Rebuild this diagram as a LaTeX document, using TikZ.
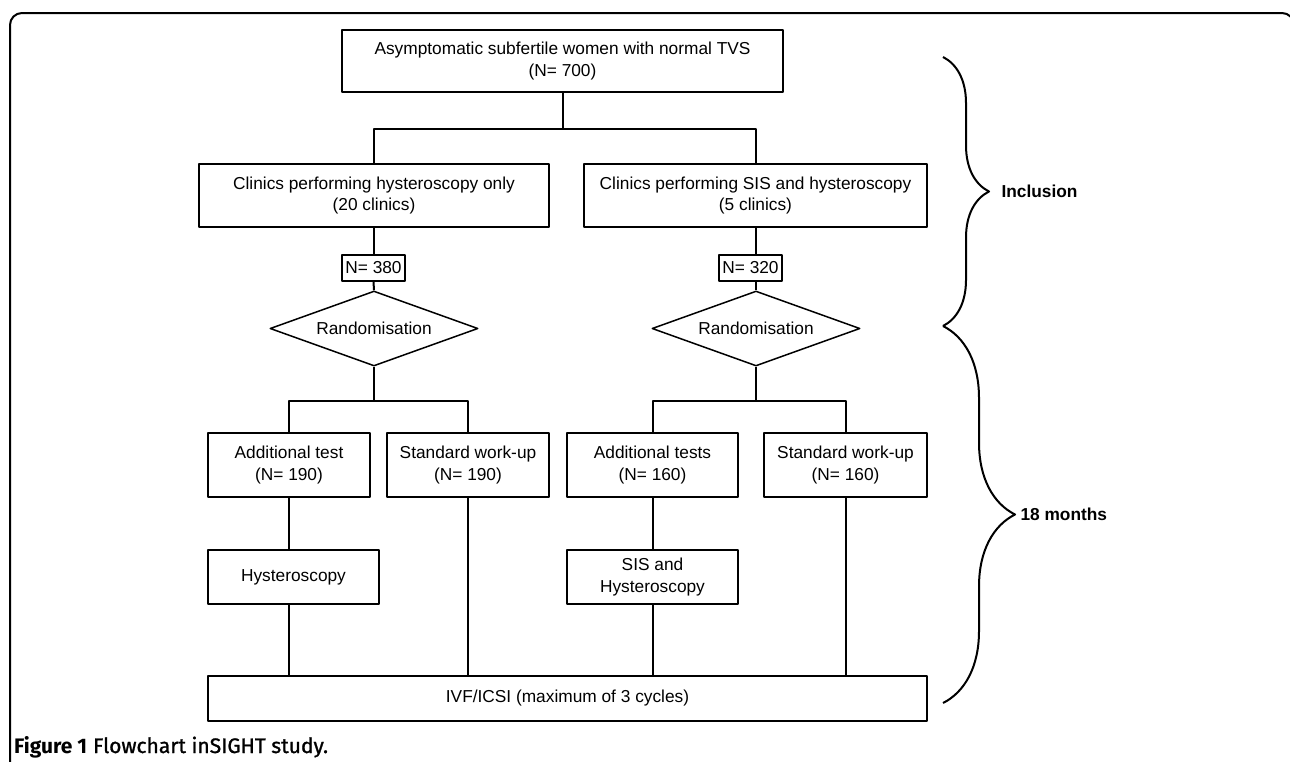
\documentclass[tikz,border=0pt]{standalone}
\usepackage{fontspec}
\setmainfont{Liberation Sans}
\newfontfamily\capfont{Fira Sans}[FakeBold=1.2]
\newfontfamily\capbold{Fira Sans}
\usetikzlibrary{shapes.geometric,decorations.pathreplacing}

\tikzset{
	box/.style={draw, line width=1.5pt, inner sep=0pt, align=center},
	rand/.style={diamond, draw, line width=1.5pt, inner sep=0pt, aspect=2.77, minimum width=208, minimum height=75},
	link/.style={line width=2pt},
	bracket/.style={line width=2pt, decorate, decoration={brace, amplitude=#1}}
}

\begin{document}
\begin{tikzpicture}[x=1pt, y=-1pt, line join=round, font=\fontsize{17.3}{21.5}\selectfont]
	\useasboundingbox (0,0) rectangle (1290,761);
	\def \bh{64};
	% frame
	\draw[line width=2pt, rounded corners=12pt] (10,775) -- (10,13) -- (1294,13) -- (1294,60);
	% boxes
	\node[box, minimum width=441, minimum height=62] (women) at (562.5,61) {Asymptomatic subfertile women with normal TVS\\(N= 700)};
	\node[box, minimum width=350, minimum height=63] (clinL) at (374,195.5) {Clinics performing hysteroscopy only\\(20 clinics)};
	\node[box, minimum width=343, minimum height=63] (clinR) at (755.5,195.5) {Clinics performing SIS and hysteroscopy\\(5 clinics)};
	\node[box, minimum width=63, minimum height=26] (nL) at (373.5,268) {N= 380};
	\node[box, minimum width=63, minimum height=26] (nR) at (750.5,268) {N= 320};
	\node[rand] (randL) at (374,328.5) {Randomisation};
	\node[rand] (randR) at (756,328.5) {Randomisation};
	\node[box, minimum width=162, minimum height=\bh] (addL) at (289,465) {Additional test\\(N= 190)};
	\node[box, minimum width=162, minimum height=\bh] (stdL) at (468,465) {Standard work-up\\(N= 190)};
	\node[box, minimum width=171, minimum height=\bh] (addR) at (652.5,465) {Additional tests\\(N= 160)};
	\node[box, minimum width=163, minimum height=\bh] (stdR) at (845.5,465) {Standard work-up\\(N= 160)};
	\node[box, minimum width=171, minimum height=54] (hyst) at (293.5,577) {Hysteroscopy};
	\node[box, minimum width=171, minimum height=54] (sis) at (652.5,577) {SIS and\\Hysteroscopy};
	\node[box, minimum width=719, minimum height=45] (ivf) at (567.5,698.5) {IVF/ICSI (maximum of 3 cycles)};
	% connectors
	\draw[link] (women.south) -- ++(0,36) coordinate (splitTop);
	\draw[link] (clinL.north) |- (splitTop) -| (clinR.north);
	\draw[link] (clinL.south) -- (clinL.south |- nL.north);
	\draw[link] (nL.south) -- (randL.north);
	\draw[link] (clinR.south) -- (clinR.south |- nR.north);
	\draw[link] (randR.north |- nR.south) -- (randR.north);
	\draw[link] (randL.south) -- ++(0,34) coordinate (splitL);
	\draw[link] (addL.north) |- (splitL) -| (stdL.north);
	\draw[link] (randR.south) -- ++(0,34) coordinate (splitR);
	\draw[link] (addR.north) |- (splitR) -| (stdR.north);
	\draw[link] (addL.south) -- (addL.south |- hyst.north);
	\draw[link] (addL.south |- hyst.south) -- (addL.south |- ivf.north);
	\draw[link] (stdL.south) -- (stdL.south |- ivf.north);
	\draw[link] (addR.south) -- (sis.north);
	\draw[link] (sis.south) -- (sis.south |- ivf.north);
	\draw[link] (stdR.south) -- (stdR.south |- ivf.north);
	% braces
	\coordinate (bTop) at (943,57);
	\coordinate (bMid) at (943,326);
	\coordinate (bEnd) at (943,703);
	\draw[bracket=46pt] (bTop) -- (bMid);
	\draw[bracket=72pt] (bMid) -- (bEnd);
	\node[anchor=west, font=\fontsize{17.3}{21.5}\selectfont\bfseries] (incl) at (998,191) {Inclusion};
	\node[anchor=west, font=\fontsize{17.3}{21.5}\selectfont\bfseries] (months) at (1017,514) {18 months};
	% caption
	\node[anchor=base west, inner sep=0pt, font=\fontsize{21}{23}\selectfont] (caption) at (14,753) {{\capbold\bfseries Figure 1} {\capfont Flowchart inSIGHT study.}};
\end{tikzpicture}
\end{document}
